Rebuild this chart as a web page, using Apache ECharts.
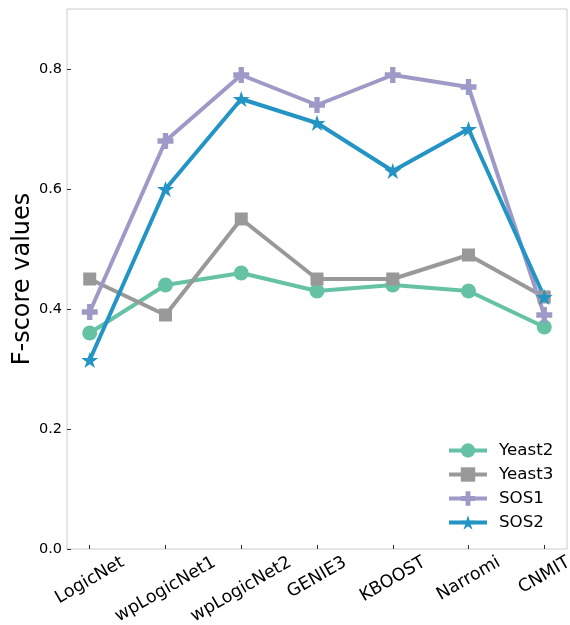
<!DOCTYPE html>
<html>
<head>
<meta charset="utf-8">
<script src="https://cdn.jsdelivr.net/npm/echarts@6/dist/echarts.min.js"></script>
<style>
  html, body { margin: 0; padding: 0; background: #fff; }
  #main { width: 570px; height: 625px; }
</style>
</head>
<body>
<div id="main"></div>
<script>
// data
const categories = ['LogicNet', 'wpLogicNet1', 'wpLogicNet2', 'GENIE3', 'KBOOST', 'Narromi', 'CNMIT'];
const yeast2 = [0.36, 0.44, 0.46, 0.43, 0.44, 0.43, 0.37];
const yeast3 = [0.45, 0.39, 0.55, 0.45, 0.45, 0.49, 0.42];
const sos1 = [0.395, 0.68, 0.79, 0.74, 0.79, 0.77, 0.39];
const sos2 = [0.315, 0.60, 0.75, 0.71, 0.63, 0.70, 0.42];
const yTicks = [0, 0.2, 0.4, 0.6, 0.8];
const xTicks = categories.map((c, i) => i);

const FONT = 'DejaVu Sans';
const X_FONT = 17.5;

// matplotlib-like centred rotated tick labels: shift each label by its own size
const ctx = document.createElement('canvas').getContext('2d');
ctx.font = X_FONT + 'px "' + FONT + '"';
const rich = {};
categories.forEach((c, i) => {
  const w = ctx.measureText(c).width;
  const d = w / 4 + 0.433 * 19 + 4 - 4;
  rich['l' + i] = {
    fontSize: X_FONT, fontFamily: FONT, color: '#000',
    padding: [1.732 * d, d, 0, 0]
  };
});

const plusPath = 'path://M1,0H2V1H3V2H2V3H1V2H0V1H1Z';
const starPath = 'path://M0,-1L0.2245,-0.309L0.951,-0.309L0.363,0.118L0.588,0.809L0,0.382L-0.588,0.809L-0.363,0.118L-0.951,-0.309L-0.2245,-0.309Z';

function mkSeries(name, values, color, symbol, size) {
  return {
    name: name,
    type: 'line',
    data: values.map((v, i) => [i, v]),
    symbol: symbol,
    symbolSize: size,
    symbolKeepAspect: true,
    lineStyle: { width: 4, color: color },
    itemStyle: { color: color },
    emphasis: { disabled: true },
    animation: false
  };
}

const chart = echarts.init(document.getElementById('main'), null, { renderer: 'canvas' });

const option = {
  backgroundColor: '#ffffff',
  textStyle: { fontFamily: FONT },
  grid: {
    left: 67, right: 3, top: 9, bottom: 76,
    show: true, borderColor: '#cccccc', borderWidth: 1,
    outerBoundsMode: 'none', containLabel: false
  },
  legend: {
    orient: 'vertical',
    left: 447, top: 442,
    padding: 0,
    itemWidth: 38, itemHeight: 18, itemGap: 7,
    textStyle: { fontSize: 16.7, color: '#000', fontFamily: FONT, padding: [0, 0, 0, 7] },
    lineStyle: { width: 4 },
    data: ['Yeast2', 'Yeast3', 'SOS1', 'SOS2']
  },
  xAxis: {
    type: 'value',
    min: -0.3, max: 6.3,
    axisLine: { show: false, onZero: false },
    splitLine: { show: false },
    axisTick: { show: true, inside: true, length: 4, customValues: xTicks, lineStyle: { color: '#333' } },
    axisLabel: {
      customValues: xTicks,
      rotate: 30,
      align: 'center',
      verticalAlign: 'middle',
      margin: 4,
      formatter: v => '{l' + Math.round(v) + '|' + categories[Math.round(v)] + '}',
      rich: rich
    }
  },
  yAxis: {
    type: 'value',
    min: 0, max: 0.9,
    name: 'F-score values',
    nameLocation: 'middle',
    nameGap: 32,
    nameMoveOverlap: false,
    nameTextStyle: { fontSize: 24, color: '#000', fontFamily: FONT },
    axisLine: { show: false, onZero: false },
    splitLine: { show: false },
    axisTick: { show: true, inside: true, length: 4, customValues: yTicks, lineStyle: { color: '#333' } },
    axisLabel: {
      customValues: yTicks,
      margin: 5,
      fontSize: 14.5, color: '#000', fontFamily: FONT,
      formatter: v => v.toFixed(1)
    }
  },
  series: [
    mkSeries('Yeast2', yeast2, '#66c2a5', 'circle', 15),
    mkSeries('Yeast3', yeast3, '#999999', 'rect', 13),
    mkSeries('SOS1', sos1, '#9e9ac8', plusPath, 16),
    mkSeries('SOS2', sos2, '#2394c4', starPath, 17)
  ]
};

chart.setOption(option);
</script>
</body>
</html>
